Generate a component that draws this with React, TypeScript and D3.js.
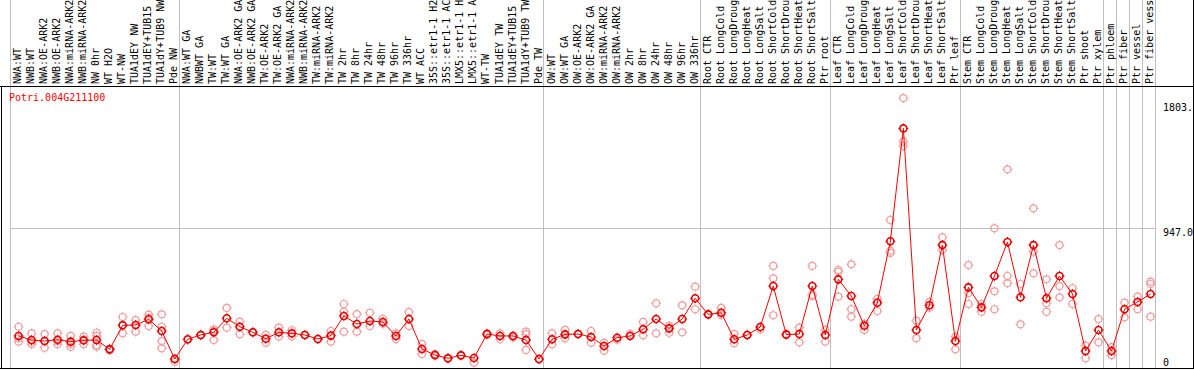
import React from 'react';
import * as d3 from 'd3';

// sample names as shown in the header (truncated at 14 chars like the original)
const sampleLabels = [
  'NWA:WT', 'NWB:WT', 'NWA:OE-ARK2', 'NWB:OE-ARK2', 'NWA:miRNA-ARK2', 'NWB:miRNA-ARK2', 'NW 0hr',
  'WT H2O', 'WT-NW', 'TUA1dEY NW', 'TUA1dEY+TUB15', 'TUA1dY+TUB9 NW', 'Pde NW',
  'NWA:WT GA', 'NWBWT GA', 'TW:WT', 'TW:WT GA', 'NWA:OE-ARK2 GA', 'NWB:OE-ARK2 GA', 'TW:OE-ARK2',
  'TW:OE-ARK2 GA', 'NWA:miRNA-ARK2', 'NWB:miRNA-ARK2', 'TW:miRNA-ARK2', 'TW:miRNA-ARK2', 'TW 2hr',
  'TW 8hr', 'TW 24hr', 'TW 48hr', 'TW 96hr', 'TW 336hr', 'WT ACC', '35S::etr1-1 H2', '35S::etr1-1 AC',
  'LMX5::etr1-1 H', 'LMX5::etr1-1 A', 'WT-TW', 'TUA1dEY TW', 'TUA1dEY+TUB15', 'TUA1dY+TUB9 TW', 'Pde TW',
  'OW:WT', 'OW:WT GA', 'OW:OE-ARK2', 'OW:OE-ARK2 GA', 'OW:miRNA-ARK2', 'OW:miRNA-ARK2', 'OW 2hr',
  'OW 8hr', 'OW 24hr', 'OW 48hr', 'OW 96hr', 'OW 336hr',
  'Root CTR', 'Root LongCold', 'Root LongDroug', 'Root LongHeat', 'Root LongSalt', 'Root ShortCold',
  'Root ShortDrou', 'Root ShortHeat', 'Root ShortSalt', 'Ptr root',
  'Leaf CTR', 'Leaf LongCold', 'Leaf LongDroug', 'Leaf LongHeat', 'Leaf LongSalt', 'Leaf ShortCold',
  'Leaf ShortDrou', 'Leaf ShortHeat', 'Leaf ShortSalt', 'Ptr leaf',
  'Stem CTR', 'Stem LongCold', 'Stem LongDroug', 'Stem LongHeat', 'Stem LongSalt', 'Stem ShortCold',
  'Stem ShortDrou', 'Stem ShortHeat', 'Stem ShortSalt', 'Ptr shoot', 'Ptr xylem',
  'Ptr phloem', 'Ptr fiber', 'Ptr vessel', 'Ptr fiber vess',
];

const groupSizes = [13, 28, 12, 10, 10, 11, 1, 1, 1, 1];

const meanValues = [
  206, 178, 171, 180, 167, 176, 178, 114, 279, 281, 320, 240, 48,
  183, 213, 231, 327, 269, 231, 187, 231, 224, 213, 185, 208, 343, 288, 308, 302, 206, 322, 117,
  75, 53, 73, 55, 219, 206, 206, 178, 48,
  183, 217, 219, 199, 137, 194, 206, 252, 322, 258, 322, 464,
  354, 365, 183, 213, 267, 548, 215, 219, 548, 213,
  594, 480, 276, 434, 855, 1629, 247, 416, 829, 171,
  539, 402, 617, 850, 471, 829, 464, 617, 494, 103, 247,
  103, 389, 439, 494,
];

const replicateValues = [
  [269, 167, 190], [224, 149, 165], [219, 125, 170], [224, 149, 170], [206, 132, 150], [201, 149, 180],
  [228, 206, 144, 132], [114, 110, 120], [336, 224, 280], [315, 235], [352, 274, 330],
  [354, 269, 171, 121], [29, 50],
  [180], [213, 210], [252, 178, 240], [398, 263], [304, 217], [231], [213, 160], [263, 201], [245, 203],
  [213], [185], [240, 167], [425, 372, 235], [356, 235], [365, 274], [324, 290], [224, 185], [370, 274],
  [151, 82], [82, 70], [55, 50], [75], [23], [224, 213], [224, 185], [195, 206], [235, 219, 110], [45],
  [224, 149], [247, 190], [219], [240, 160], [160, 105], [180], [220], [302, 210], [430, 224], [275, 228],
  [416, 231], [544, 389],
  [354], [398, 350], [219, 156], [213], [250], [686, 601, 348], [220], [263, 162], [686, 487, 480],
  [247, 167],
  [658, 646, 475], [697, 389, 338], [290, 247], [461, 377], [1001, 790, 775], [1837, 1538, 1508],
  [311, 190], [440, 400], [882, 795], [200, 114],
  [692, 500, 425], [425, 372], [944, 512, 389], [1348, 617, 567], [562, 286], [1081, 784, 635],
  [594, 430, 372], [829, 548, 471], [533, 425], [140, 53], [322, 162],
  [130, 73], [434, 334], [475, 389], [578, 562, 338],
];

const axisTicks = [0, 947, 1803];
const geneId = 'Potri.004G211100';

const W = 1194;
const H = 370;
const FONT = '"DejaVu Sans Mono", monospace';

function Marker({ cx, cy, r, color, width }) {
  // circle with the small ticks the original raster shows
  const t = 1.5;
  return (
    <g stroke={color} strokeWidth={width} fill="none">
      <circle cx={cx} cy={cy} r={r} />
      <line x1={cx} x2={cx} y1={cy - r - t} y2={cy - r + 0.5} strokeWidth={1} />
      <line x1={cx} x2={cx} y1={cy + r - 0.5} y2={cy + r + t} strokeWidth={1} />
      <line x1={cx - r - t} x2={cx - r + 0.5} y1={cy} y2={cy} strokeWidth={1} />
      <line x1={cx + r - 0.5} x2={cx + r + t} y1={cy} y2={cy} strokeWidth={1} />
    </g>
  );
}

export default function App() {
  const n = sampleLabels.length;
  const x = d3.scaleLinear().domain([0, n]).range([10, 1155]);
  const y = d3.scaleLinear().domain([0, 1803]).range([366, 103]);
  const px = (i) => x(i + 0.66);

  const bounds = [0, ...d3.cumsum(groupSizes)];
  const line = d3.line<number>().x((d, i) => px(i)).y((d) => y(d));

  return (
    <svg width={W} height={H} style={{ position: 'absolute', left: 0, top: 0, background: '#fff' }}
      fontFamily={FONT} fontSize={10}>
      {/* group separators */}
      {Array.from(bounds).map((b, i) => (
        <line key={'g' + i} x1={Math.round(x(b)) + 0.5} x2={Math.round(x(b)) + 0.5} y1={0} y2={368}
          stroke="#c0c0c0" strokeWidth={1} />
      ))}
      {/* half-max grid line */}
      <line x1={10} x2={1155} y1={Math.round(y(947)) + 0.5} y2={Math.round(y(947)) + 0.5}
        stroke="#c0c0c0" strokeWidth={1} />

      {/* frame */}
      <line x1={0} x2={1193} y1={86.5} y2={86.5} stroke="#000" />
      <line x1={0} x2={1193} y1={368.5} y2={368.5} stroke="#000" />
      <line x1={1.5} x2={1.5} y1={86} y2={369} stroke="#000" />
      <line x1={1193.5} x2={1193.5} y1={0} y2={369} stroke="#000" />

      {/* header labels */}
      {sampleLabels.map((s, i) => (
        <text key={'l' + i} transform={`translate(${px(i) + 2.5},84) rotate(-90)`} fill="#000">{s}</text>
      ))}

      <text x={9} y={101} fill="#ff0000">{geneId}</text>

      {/* right axis labels */}
      {axisTicks.map((v) => (
        <text key={'t' + v} x={1163} y={Math.min(y(v) + 8, 366)} fill="#000">
          {v === 0 ? '0' : v === 947 ? '947.0' : v + '.'}
        </text>
      ))}

      {/* replicates */}
      {replicateValues.map((reps, i) =>
        reps.map((v, j) => (
          <Marker key={`r${i}-${j}`} cx={px(i)} cy={y(v)} r={3.5} color="#f0a0a0" width={1.2} />
        ))
      )}

      <path d={line(meanValues)} fill="none" stroke="#ff0000" strokeWidth={1} />

      {meanValues.map((v, i) => (
        <Marker key={'m' + i} cx={px(i)} cy={y(v)} r={3.5} color="#e80000" width={1.6} />
      ))}
    </svg>
  );
}
